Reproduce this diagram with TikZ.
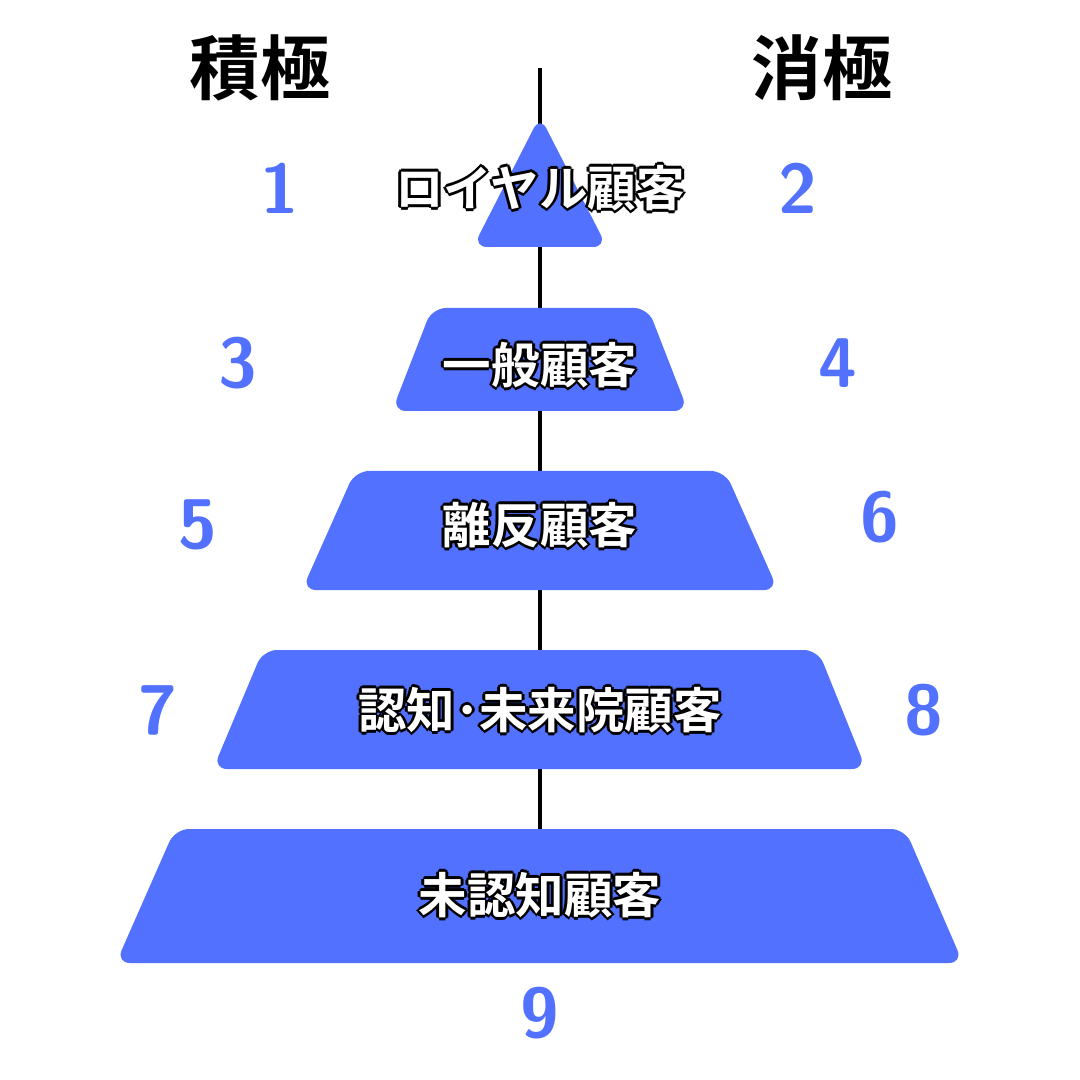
\documentclass[tikz,border=0pt]{standalone}
\usepackage{fontspec}
\newfontfamily\cjk{Noto Sans CJK JP}[BoldFont={* Bold}]
\definecolor{pblue}{HTML}{5271FF}
\newcommand{\otext}[2]{%
  \foreach \dx/\dy in {-2/0,2/0,0/-2,0/2,-1.5/-1.5,1.5/1.5,-1.5/1.5,1.5/-1.5,-3/0,3/0,0/3,0/-3}{
    \node[lbl,text=black] at ([xshift=\dx*0.01cm,yshift=\dy*0.01cm]#1) {#2};}
  \node[lbl,text=white] at (#1) {#2};}
\begin{document}
\begin{tikzpicture}[x=0.01cm,y=-0.01cm,
  lvl/.style={fill=pblue,rounded corners=4pt},
  lbl/.style={font=\cjk\bfseries\fontsize{13.8}{15}\selectfont,inner sep=0},
  num/.style={font=\sffamily\bfseries\fontsize{20}{22}\selectfont,text=pblue,inner sep=0},
  ttl/.style={font=\cjk\bfseries\fontsize{20}{24}\selectfont,inner sep=0}]
\useasboundingbox (0,0) rectangle (1080,1080);
\draw[line width=1.2pt] (540,68) -- (540,829);
\path[lvl] (540,116) -- (607,247) -- (473,247) -- cycle;
\path[lvl] (432,308) -- (648,308) -- (688,411) -- (392,411) -- cycle;
\path[lvl] (355,471) -- (725,471) -- (778,590) -- (302,590) -- cycle;
\path[lvl] (263,650) -- (818,650) -- (866,769) -- (213,769) -- cycle;
\path[lvl] (175,829) -- (905,829) -- (963,963) -- (116,963) -- cycle;
\coordinate (t1) at (540,188); \otext{t1}{ロイヤル顧客}
\coordinate (t2) at (540,365); \otext{t2}{一般顧客}
\coordinate (t3) at (540,525); \otext{t3}{離反顧客}
\coordinate (t4) at (540,710); \otext{t4}{認知･未来院顧客}
\coordinate (t5) at (540,895); \otext{t5}{未認知顧客}
\node[ttl] (a) at (260,68) {積極};
\node[ttl] (b) at (822,68) {消極};
\node[num] (n1) at (280,188) {1};
\node[num] (n2) at (798,188) {2};
\node[num] (n3) at (238,363) {3};
\node[num] (n4) at (838,363) {4};
\node[num] (n5) at (198,525) {5};
\node[num] (n6) at (880,517) {6};
\node[num] (n7) at (158,710) {7};
\node[num] (n8) at (924,710) {8};
\node[num] (n9) at (540,1013) {9};
\end{tikzpicture}
\end{document}
